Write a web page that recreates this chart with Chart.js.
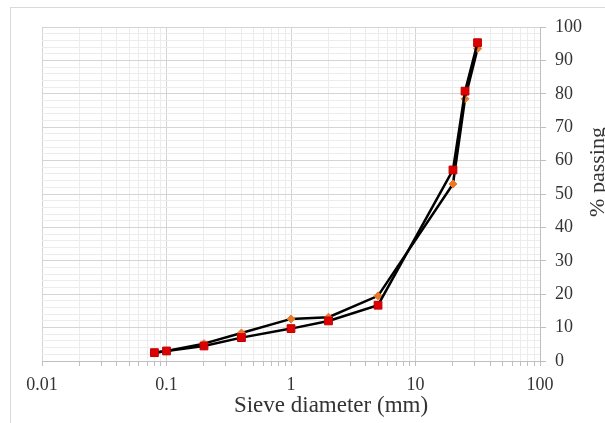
<!DOCTYPE html>
<html>
<head>
<meta charset="utf-8">
<script src="https://cdn.jsdelivr.net/npm/chart.js@4.4.1/dist/chart.umd.min.js"></script>
<style>
  html, body { margin: 0; padding: 0; background: #fff; }
  #wrap { position: relative; width: 605px; height: 423px; overflow: hidden; }
  #frame { position: absolute; left: 10px; top: 7px; width: 620px; height: 440px; border: 1px solid #d9d9d9; }
  #gradingChart { position: absolute; left: 0; top: 0; }
</style>
</head>
<body>
<div id="wrap">
  <div id="frame"></div>
  <canvas id="gradingChart" width="605" height="423"></canvas>
</div>
<script>
// sieve sizes (mm) and % passing
const sieveSizes = [0.08, 0.1, 0.2, 0.4, 1, 2, 5, 20, 25, 31.5];
const passingA = [2.5, 3, 5.2, 8.4, 12.6, 13.1, 19.5, 53, 78.5, 93.5]; // orange diamonds
const passingB = [2.5, 3, 4.5, 7, 9.7, 12, 16.7, 57.2, 80.8, 95.3];  // red squares

const xDecades = [0.01, 0.1, 1, 10, 100];
const xTickLabels = ["0.01", "0.1", "1", "10", "100"];
const yTicks = [0, 2, 4, 6, 8, 10, 12, 14, 16, 18, 20, 22, 24, 26, 28, 30, 32, 34, 36, 38, 40,
  42, 44, 46, 48, 50, 52, 54, 56, 58, 60, 62, 64, 66, 68, 70, 72, 74, 76, 78, 80,
  82, 84, 86, 88, 90, 92, 94, 96, 98, 100];
const yTickLabels = ["0", "10", "20", "30", "40", "50", "60", "70", "80", "90", "100"];
const xTitle = "Sieve diameter (mm)";
const yTitle = "% passing";

const serif = "'Liberation Serif', 'Times New Roman', serif";

function isDecade(v) {
  return xDecades.some((d) => Math.abs(d - v) < d * 1e-6);
}

// minor log ticks: 1..9 within each decade
const xTicks = [];
xDecades.slice(0, -1).forEach((d) => {
  for (let m = 1; m < 10; m++) xTicks.push(+(d * m).toPrecision(6));
});
xTicks.push(xDecades[xDecades.length - 1]);

// axis titles drawn by hand: x one sits right of centre, y one reads bottom-to-top
const axisTitles = {
  id: "axisTitles",
  afterDraw(chart) {
    const ctx = chart.ctx;
    ctx.save();
    ctx.font = "23px " + serif;
    ctx.fillStyle = "#333";
    ctx.textAlign = "center";
    ctx.textBaseline = "middle";
    ctx.fillText(xTitle, 331, 406);
    ctx.translate(598, 172);
    ctx.rotate(-Math.PI / 2);
    ctx.font = "22px " + serif;
    ctx.fillText(yTitle, 0, 0);
    ctx.restore();
  },
};

new Chart(document.getElementById("gradingChart"), {
  type: "line",
  data: {
    datasets: [
      {
        label: "B",
        data: sieveSizes.map((s, i) => ({ x: s, y: passingB[i] })),
        borderColor: "#000",
        borderWidth: 2.5,
        pointStyle: "rect",
        pointRadius: 5.5,
        pointBackgroundColor: "#dd0000",
        pointBorderColor: "#c00000",
        pointBorderWidth: 1,
        tension: 0,
      },
      {
        label: "A",
        data: sieveSizes.map((s, i) => ({ x: s, y: passingA[i] })),
        borderColor: "#000",
        borderWidth: 2.5,
        pointStyle: "rectRot",
        pointRadius: 4,
        pointBackgroundColor: "#e8782a",
        pointBorderColor: "#e8782a",
        pointBorderWidth: 1,
        tension: 0,
      },
    ],
  },
  options: {
    responsive: false,
    animation: false,
    events: [],
    layout: { padding: { left: 42, top: 27, right: 0, bottom: 0 } },
    plugins: { legend: { display: false }, tooltip: { enabled: false } },
    scales: {
      x: {
        type: "logarithmic",
        min: 0.01,
        max: 100,
        afterBuildTicks: (s) => { s.ticks = xTicks.map((v) => ({ value: v })); },
        afterFit: (s) => { s.height = 62; },
        border: { color: "#bfbfbf", width: 1 },
        grid: {
          color: (c) => (c.tick && isDecade(c.tick.value) ? "#d4d4d4" : "#ececec"),
          tickColor: "#bfbfbf",
          tickLength: 5,
        },
        ticks: {
          autoSkip: false,
          maxRotation: 0,
          minRotation: 0,
          padding: 8,
          color: "#333",
          font: { family: serif, size: 18 },
          callback: (v) => {
            const i = xDecades.findIndex((d) => Math.abs(d - v) < d * 1e-6);
            return i >= 0 ? xTickLabels[i] : "";
          },
        },
      },
      y: {
        position: "right",
        min: 0,
        max: 100,
        afterBuildTicks: (s) => { s.ticks = yTicks.map((v) => ({ value: v })); },
        afterFit: (s) => { s.width = 65; },
        border: { color: "#bfbfbf", width: 1 },
        grid: {
          color: (c) => (c.tick && c.tick.value % 10 === 0 ? "#d4d4d4" : "#ececec"),
          tickColor: (c) => (c.tick && c.tick.value % 10 === 0 ? "#bfbfbf" : "rgba(0,0,0,0)"),
          tickLength: 6,
        },
        ticks: {
          autoSkip: false,
          padding: 9,
          color: "#333",
          font: { family: serif, size: 18 },
          callback: (v) => (v % 10 === 0 ? yTickLabels[v / 10] : ""),
        },
      },
    },
  },
  plugins: [axisTitles],
});
</script>
</body>
</html>
